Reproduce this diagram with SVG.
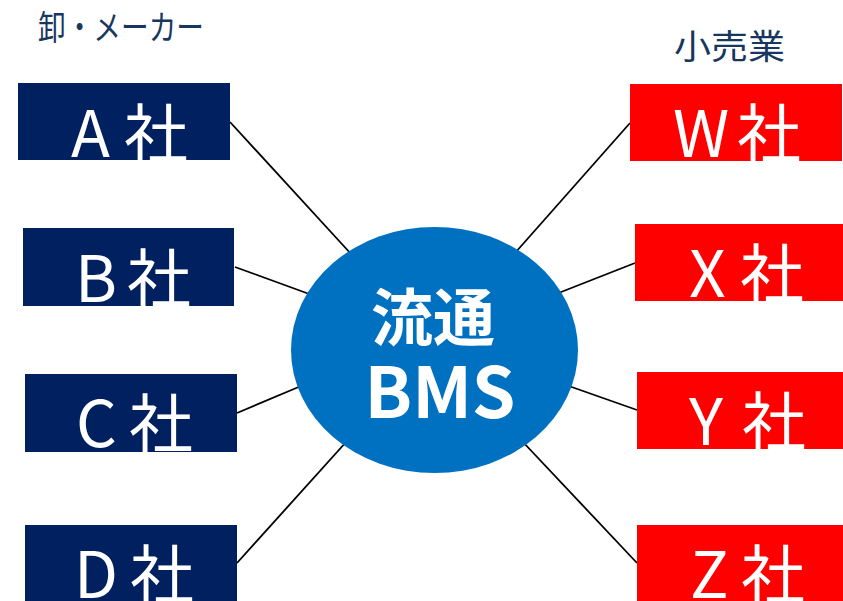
<svg xmlns="http://www.w3.org/2000/svg" width="843" height="601" viewBox="0 0 843 601">
<style>
.lbl{font-family:"Noto Sans CJK JP","Liberation Sans",sans-serif;font-size:64px;fill:#FFFFFF}
.hdr{font-family:"Noto Sans CJK JP",sans-serif;font-size:34px;fill:#17375E}
.mk{fill:#002060}
.rt{fill:#FF0000}
.cn line{stroke:#000;stroke-width:1.8}
.ctr{font-family:"Noto Sans CJK JP","Liberation Sans",sans-serif;font-weight:700;fill:#FFFFFF;text-anchor:middle}
</style>
<rect width="843" height="601" fill="#FFFFFF"/>
<text class="hdr" x="38" y="40" textLength="166" lengthAdjust="spacingAndGlyphs">卸・メーカー</text>
<text class="hdr" x="674" y="59" textLength="111" lengthAdjust="spacingAndGlyphs">小売業</text>
<g id="connectors" class="cn">
<line x1="230" y1="122" x2="352" y2="255"/>
<line x1="235" y1="267" x2="312" y2="295"/>
<line x1="237" y1="413" x2="301" y2="386"/>
<line x1="237" y1="563" x2="347" y2="441"/>
<line x1="630" y1="123" x2="515" y2="253"/>
<line x1="635" y1="263" x2="556" y2="294"/>
<line x1="637" y1="410" x2="566" y2="385"/>
<line x1="637" y1="563" x2="522" y2="441"/>
</g>
<g id="center">
<ellipse cx="434.5" cy="350" rx="143.5" ry="123" fill="#0070C0"/>
<text class="ctr" x="433" y="341" font-size="62">流通</text>
<text class="ctr" x="440" y="418" font-size="70">BMS</text>
</g>
<g id="nodeA"><rect class="mk" x="18" y="83" width="212" height="77"/><text class="lbl" y="157"><tspan x="71">A</tspan><tspan x="124">社</tspan></text></g>
<g id="nodeB"><rect class="mk" x="23" y="228" width="211" height="78"/><text class="lbl" y="302"><tspan x="75">B</tspan><tspan x="127">社</tspan></text></g>
<g id="nodeC"><rect class="mk" x="25" y="374" width="212" height="78"/><text class="lbl" y="447"><tspan x="76">C</tspan><tspan x="129">社</tspan></text></g>
<g id="nodeD"><rect class="mk" x="25" y="525" width="212" height="76"/><text class="lbl" y="598"><tspan x="74">D</tspan><tspan x="130">社</tspan></text></g>
<g id="nodeW"><rect class="rt" x="630" y="84" width="212" height="77"/><text class="lbl" y="157"><tspan x="673">W</tspan><tspan x="737">社</tspan></text></g>
<g id="nodeX"><rect class="rt" x="635" y="224" width="208" height="77"/><text class="lbl" y="297"><tspan x="689">X</tspan><tspan x="740">社</tspan></text></g>
<g id="nodeY"><rect class="rt" x="637" y="372" width="206" height="77"/><text class="lbl" y="445"><tspan x="689">Y</tspan><tspan x="742">社</tspan></text></g>
<g id="nodeZ"><rect class="rt" x="637" y="525" width="206" height="76"/><text class="lbl" y="598"><tspan x="690">Z</tspan><tspan x="741">社</tspan></text></g>
</svg>
